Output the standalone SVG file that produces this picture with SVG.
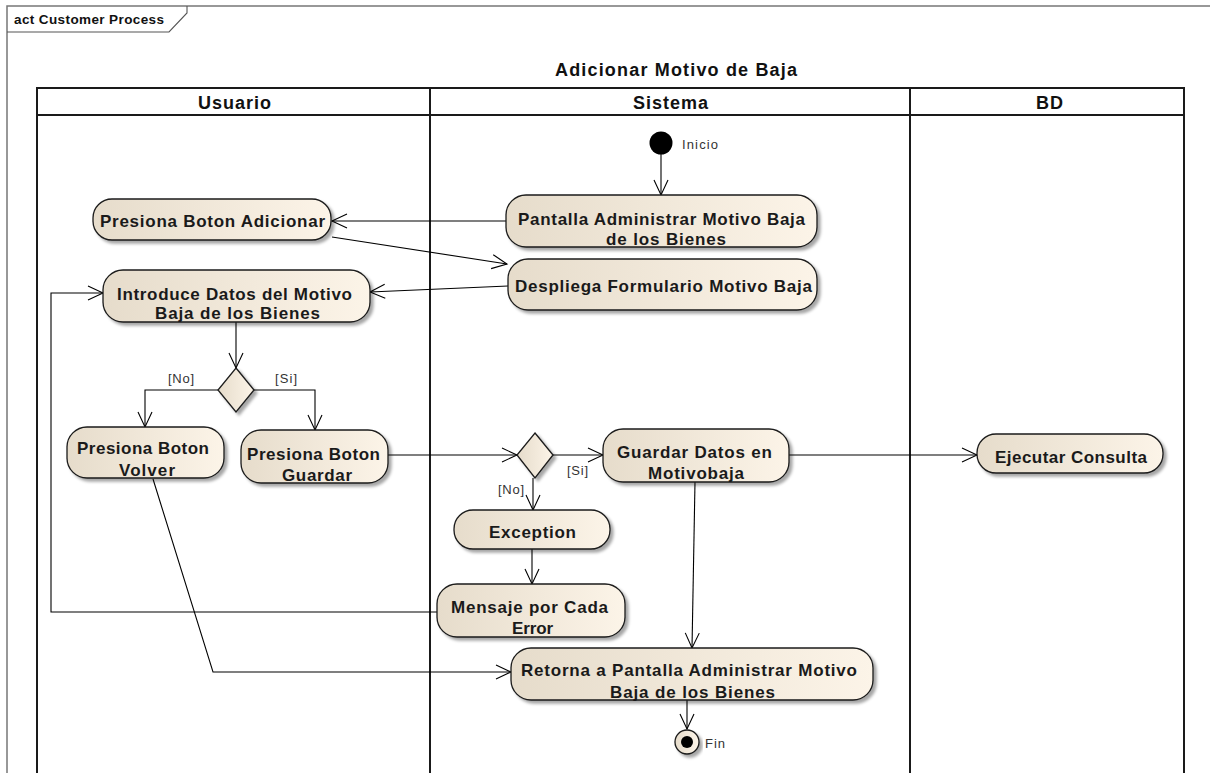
<svg xmlns="http://www.w3.org/2000/svg" width="1210" height="773" viewBox="0 0 1210 773">
  <defs>
    <linearGradient id="fillAct" x1="0" y1="0" x2="1" y2="0">
      <stop offset="0" stop-color="#e6dccb"/>
      <stop offset="1" stop-color="#fcf4e8"/>
    </linearGradient>
    <filter id="shadow" x="-10%" y="-20%" width="125%" height="150%">
      <feDropShadow dx="3" dy="3" stdDeviation="1.5" flood-color="#000" flood-opacity="0.35"/>
    </filter>
    <marker id="open" markerUnits="userSpaceOnUse" markerWidth="18" markerHeight="18" viewBox="-16 -9 18 18" refX="0" refY="0" orient="auto">
      <path d="M-15,-7 L0,0 L-15,7" fill="none" stroke="#000" stroke-width="1.1"/>
    </marker>
    <style>
      .act { fill: url(#fillAct); stroke: #1a1a1a; stroke-width: 1.3; filter: url(#shadow); }
      .lbl { font-family: "Liberation Sans", Arial, sans-serif; font-weight: bold; font-size: 17px; fill: #1a1a1a; }
      .hdr { font-family: "Liberation Sans", Arial, sans-serif; font-weight: bold; font-size: 18px; fill: #111; }
      .frm { font-family: "Liberation Sans", Arial, sans-serif; font-weight: bold; font-size: 13.5px; fill: #111; }
      .small { font-family: "Liberation Sans", Arial, sans-serif; font-size: 13px; fill: #333; }
      .lane { fill: none; stroke: #1a1a1a; stroke-width: 2; }
      .edge { fill: none; stroke: #000; stroke-width: 1.1; marker-end: url(#open); }
    </style>
  </defs>

  <rect width="1210" height="773" fill="#fff"/>

  <!-- diagram frame -->
  <g id="frame">
    <path d="M7,773 L7,6 L1210,6" fill="none" stroke="#777" stroke-width="1.5"/>
    <path d="M7,32 L169,32 L187,13 L187,6" fill="none" stroke="#555" stroke-width="1.1"/>
    <text class="frm" x="14" y="24" textLength="150" lengthAdjust="spacing">act Customer Process</text>
  </g>

  <!-- partition title and lanes -->
  <g id="lanes">
    <text class="hdr" x="555" y="76" textLength="242" lengthAdjust="spacing">Adicionar Motivo de Baja</text>
    <path class="lane" d="M37,773 L37,88 L1184,88 L1184,773 M37,115 L1184,115 M430,88 L430,773 M910,88 L910,773"/>
    <text class="hdr" x="198" y="109" textLength="73" lengthAdjust="spacing">Usuario</text>
    <text class="hdr" x="633" y="109" textLength="75" lengthAdjust="spacing">Sistema</text>
    <text class="hdr" x="1036" y="109" textLength="27" lengthAdjust="spacing">BD</text>
  </g>

  <!-- connectors -->
  <g id="connectors">
    <path class="edge" d="M661,154 L661,195"/>
    <path class="edge" d="M506,221 L332,221"/>
    <path class="edge" d="M332,237 L507,264"/>
    <path class="edge" d="M508,286 L370,292"/>
    <path class="edge" d="M236,322 L236,368"/>
    <path class="edge" d="M218,390 L145,390 L145,427"/>
    <path class="edge" d="M254,390 L315,390 L315,430"/>
    <path class="edge" d="M388,455 L517,455"/>
    <path class="edge" d="M553,455 L603,455"/>
    <path class="edge" d="M533,478 L533,510"/>
    <path class="edge" d="M532,549 L532,584"/>
    <path class="edge" d="M437,612 L51,612 L51,293 L103,293"/>
    <path class="edge" d="M153,479 L213,672 L511,672"/>
    <path class="edge" d="M695,482 L692,648"/>
    <path class="edge" d="M687,700 L687,729"/>
    <path class="edge" d="M789,455 L977,455"/>
    <text class="small" x="168" y="383" textLength="26" lengthAdjust="spacing">[No]</text>
    <text class="small" x="275" y="383" textLength="22" lengthAdjust="spacing">[Si]</text>
    <text class="small" x="567" y="475" textLength="21" lengthAdjust="spacing">[Si]</text>
    <text class="small" x="498" y="494" textLength="26" lengthAdjust="spacing">[No]</text>
  </g>

  <!-- nodes -->
  <g id="inicio">
    <circle cx="661" cy="143" r="11.5" fill="#000"/>
    <text class="small" x="682" y="149" textLength="36" lengthAdjust="spacing">Inicio</text>
  </g>

  <g id="pantalla-administrar">
    <rect class="act" x="506" y="195" width="311" height="52" rx="20"/>
    <text class="lbl" x="518" y="225" textLength="287" lengthAdjust="spacing">Pantalla Administrar Motivo Baja</text>
    <text class="lbl" x="606" y="245" textLength="120" lengthAdjust="spacing">de los Bienes</text>
  </g>

  <g id="despliega-formulario">
    <rect class="act" x="508" y="259" width="309" height="51" rx="20"/>
    <text class="lbl" x="515" y="292" textLength="297" lengthAdjust="spacing">Despliega Formulario Motivo Baja</text>
  </g>

  <g id="presiona-adicionar">
    <rect class="act" x="93" y="199" width="238" height="41" rx="19"/>
    <text class="lbl" x="100" y="227" textLength="225" lengthAdjust="spacing">Presiona Boton Adicionar</text>
  </g>

  <g id="introduce-datos">
    <rect class="act" x="103" y="270" width="267" height="52" rx="20"/>
    <text class="lbl" x="117" y="300" textLength="235" lengthAdjust="spacing">Introduce Datos del Motivo</text>
    <text class="lbl" x="155" y="319" textLength="165" lengthAdjust="spacing">Baja de los Bienes</text>
  </g>

  <g id="decision-datos">
    <path class="act" d="M236,368 L254,390 L236,412 L218,390 Z"/>
  </g>

  <g id="presiona-volver">
    <rect class="act" x="67" y="427" width="157" height="51" rx="20"/>
    <text class="lbl" x="77" y="454" textLength="132" lengthAdjust="spacing">Presiona Boton</text>
    <text class="lbl" x="119" y="476" textLength="56" lengthAdjust="spacing">Volver</text>
  </g>

  <g id="presiona-guardar">
    <rect class="act" x="241" y="430" width="147" height="53" rx="20"/>
    <text class="lbl" x="247" y="460" textLength="133" lengthAdjust="spacing">Presiona Boton</text>
    <text class="lbl" x="282" y="481" textLength="70" lengthAdjust="spacing">Guardar</text>
  </g>

  <g id="decision-guardar">
    <path class="act" d="M535,433 L553,455 L535,478 L517,455 Z"/>
  </g>

  <g id="guardar-datos">
    <rect class="act" x="603" y="429" width="186" height="53" rx="20"/>
    <text class="lbl" x="617" y="458" textLength="155" lengthAdjust="spacing">Guardar Datos en</text>
    <text class="lbl" x="648" y="479" textLength="96" lengthAdjust="spacing">Motivobaja</text>
  </g>

  <g id="exception">
    <rect class="act" x="454" y="510" width="156" height="39" rx="19"/>
    <text class="lbl" x="489" y="538" textLength="87" lengthAdjust="spacing">Exception</text>
  </g>

  <g id="mensaje-error">
    <rect class="act" x="437" y="584" width="188" height="53" rx="20"/>
    <text class="lbl" x="451" y="613" textLength="157" lengthAdjust="spacing">Mensaje por Cada</text>
    <text class="lbl" x="512" y="634" textLength="41" lengthAdjust="spacing">Error</text>
  </g>

  <g id="retorna-pantalla">
    <rect class="act" x="511" y="648" width="362" height="52" rx="20"/>
    <text class="lbl" x="521" y="676" textLength="336" lengthAdjust="spacing">Retorna a Pantalla Administrar Motivo</text>
    <text class="lbl" x="610" y="698" textLength="165" lengthAdjust="spacing">Baja de los Bienes</text>
  </g>

  <g id="ejecutar-consulta">
    <rect class="act" x="977" y="434" width="186" height="39" rx="19"/>
    <text class="lbl" x="995" y="463" textLength="152" lengthAdjust="spacing">Ejecutar Consulta</text>
  </g>

  <g id="fin">
    <circle class="act" cx="687" cy="742" r="12"/>
    <circle cx="687" cy="742" r="6" fill="#000"/>
    <text class="small" x="705" y="748" textLength="20" lengthAdjust="spacing">Fin</text>
  </g>
</svg>
